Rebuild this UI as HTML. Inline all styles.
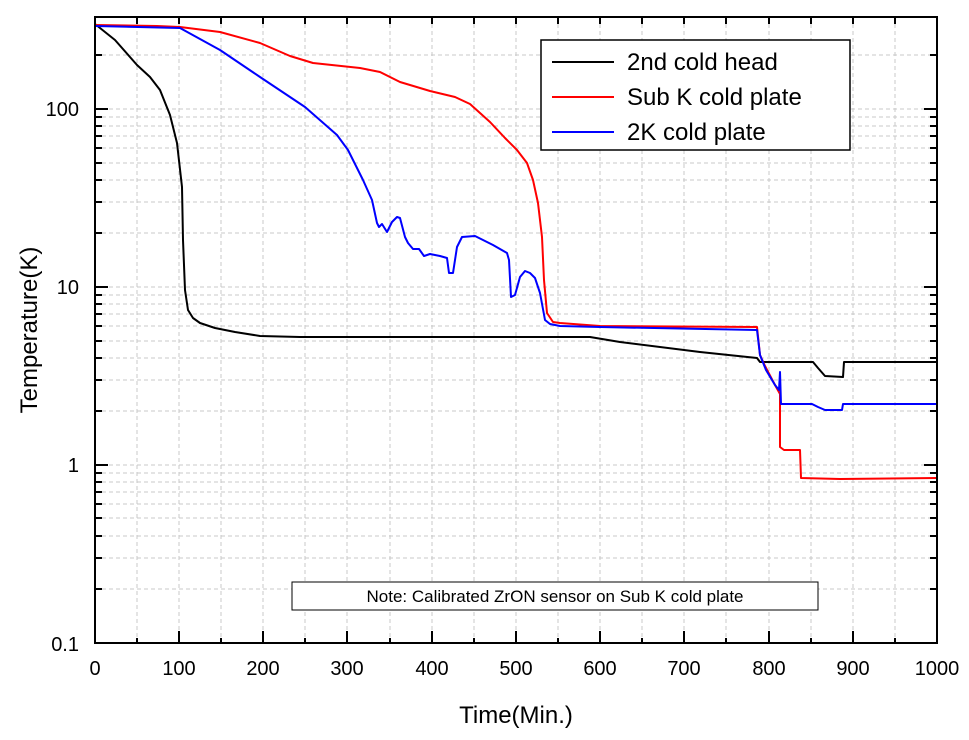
<!DOCTYPE html>
<html><head><meta charset="utf-8"><style>body{margin:0;background:#fff}svg{display:block}text{font-family:"Liberation Sans",sans-serif}</style></head><body>
<svg width="969" height="740" xmlns="http://www.w3.org/2000/svg">
<g stroke="#c8c8c8" stroke-dasharray="4,3" stroke-width="1">
<path fill="none" d="M137,17V643M179,17V643M221,17V643M263,17V643M305,17V643M347,17V643M390,17V643M432,17V643M474,17V643M516,17V643M558,17V643M600,17V643M642,17V643M684,17V643M726,17V643M769,17V643M811,17V643M853,17V643M895,17V643"/>
<path fill="none" d="M95,589H937M95,558H937M95,536H937M95,518H937M95,504H937M95,492H937M95,482H937M95,473H937M95,465H937M95,411H937M95,380H937M95,358H937M95,341H937M95,326H937M95,314H937M95,304H937M95,295H937M95,287H937M95,233H937M95,202H937M95,180H937M95,163H937M95,148H937M95,136H937M95,126H937M95,117H937M95,109H937M95,55H937"/>
</g>
<g fill="none" stroke-width="2" stroke-linejoin="round">
<polyline stroke="#000" points="95,24 115,40 137,65 150,77 160,90 170,115 177,143 182,187 183,240 185,290 188,310 193,318 200,323 215,328 235,332 260,336 300,337 590,337 620,342 700,352 757,358 760,362 813,362 818,368 825,376 843,377 844,362 937,362"/>
<polyline stroke="#f00" points="95,25 157,26 180,27 220,32 260,43 290,56 313,63 360,68 380,72 400,82 430,91 455,97 470,104 490,122 505,138 517,150 527,163 533,180 538,203 542,237 544,280 547,313 553,322 560,323 600,326 757,327 760,355 765,366 775,385 780,394 780,447 784,450 800,450 801,478 840,479 937,478"/>
<polyline stroke="#00f" points="95,26 180,28 220,50 260,77 305,107 337,135 348,150 363,180 372,200 377,223 379,227 382,224 387,232 392,222 397,217 400,218 405,237 408,243 413,249 419,249 424,256 430,254 440,256 447,258 449,273 453,273 457,247 462,237 475,236 493,245 507,253 509,260 511,297 515,295 520,277 525,271 530,273 535,278 540,293 545,320 550,324 560,326 600,327 757,330 760,355 766,370 775,385 779,390 780,372 781,404 812,404 818,407 825,410 842,410 843,404 937,404"/>
</g>
<rect x="95" y="17" width="842" height="626" fill="none" stroke="#000" stroke-width="2"/>
<g stroke="#000" stroke-width="2">
<path d="M137,643v-5M179,643v-12M221,643v-5M263,643v-12M305,643v-5M347,643v-12M390,643v-5M432,643v-12M474,643v-5M516,643v-12M558,643v-5M600,643v-12M642,643v-5M684,643v-12M726,643v-5M769,643v-12M811,643v-5M853,643v-12M895,643v-5M137,17v7M179,17v7M221,17v7M263,17v7M305,17v7M347,17v7M390,17v7M432,17v7M474,17v7M516,17v7M558,17v7M600,17v7M642,17v7M684,17v7M726,17v7M769,17v7M811,17v7M853,17v7M895,17v7"/>
<path d="M95,465h13M95,287h13M95,109h13M937,465h-13M937,287h-13M937,109h-13M95,589h7M95,558h7M95,536h7M95,518h7M95,504h7M95,492h7M95,482h7M95,473h7M95,411h7M95,380h7M95,358h7M95,341h7M95,326h7M95,314h7M95,304h7M95,295h7M95,233h7M95,202h7M95,180h7M95,163h7M95,148h7M95,136h7M95,126h7M95,117h7M95,55h7M937,589h-7M937,558h-7M937,536h-7M937,518h-7M937,504h-7M937,492h-7M937,482h-7M937,473h-7M937,411h-7M937,380h-7M937,358h-7M937,341h-7M937,326h-7M937,314h-7M937,304h-7M937,295h-7M937,233h-7M937,202h-7M937,180h-7M937,163h-7M937,148h-7M937,136h-7M937,126h-7M937,117h-7M937,55h-7"/>
</g>
<g font-size="20" text-anchor="middle">
<text x="95" y="675">0</text><text x="179" y="675">100</text><text x="263" y="675">200</text><text x="347" y="675">300</text><text x="432" y="675">400</text><text x="516" y="675">500</text><text x="600" y="675">600</text><text x="684" y="675">700</text><text x="769" y="675">800</text><text x="853" y="675">900</text><text x="937" y="675">1000</text>
</g>
<g font-size="20" text-anchor="end">
<text x="79" y="651">0.1</text><text x="79" y="472">1</text><text x="79" y="294">10</text><text x="79" y="116">100</text>
</g>
<text x="516" y="723" font-size="24" text-anchor="middle">Time(Min.)</text>
<text transform="translate(37,330) rotate(-90)" font-size="24" text-anchor="middle">Temperature(K)</text>
<rect x="541" y="40" width="309" height="110" fill="#fff" stroke="#000" stroke-width="1.5"/>
<g stroke-width="2"><line x1="552" y1="62" x2="614" y2="62" stroke="#000"/><line x1="552" y1="97" x2="614" y2="97" stroke="#f00"/><line x1="552" y1="132" x2="614" y2="132" stroke="#00f"/></g>
<g font-size="24"><text x="627" y="70">2nd cold head</text><text x="627" y="105">Sub K cold plate</text><text x="627" y="140">2K cold plate</text></g>
<rect x="292" y="582" width="526" height="28" fill="#fff" stroke="#000" stroke-width="1"/>
<text x="555" y="602" font-size="17" text-anchor="middle">Note: Calibrated ZrON sensor on Sub K cold plate</text>
</svg>
</body></html>
